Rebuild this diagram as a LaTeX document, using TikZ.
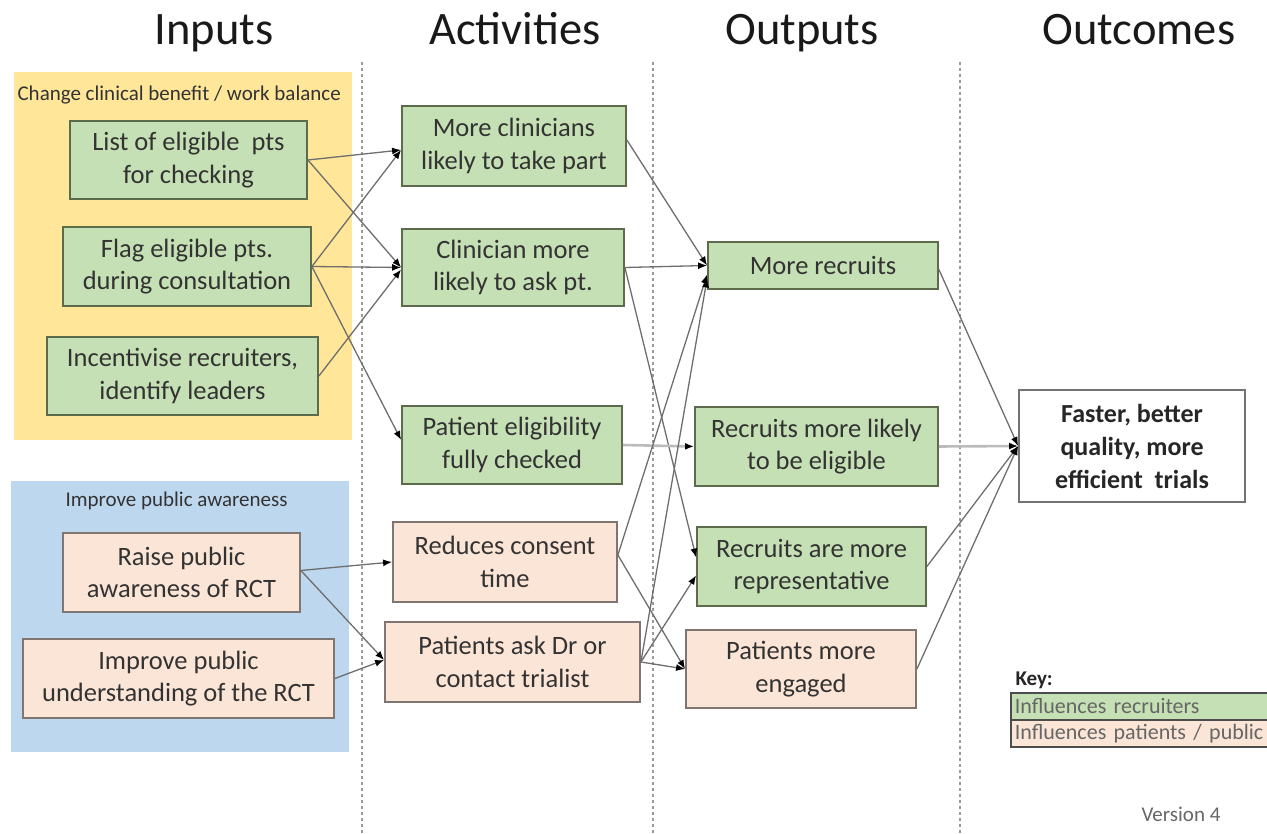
\documentclass[tikz,border=0pt]{standalone}
\usepackage{fontspec}
\setmainfont{Carlito}
\usetikzlibrary{arrows.meta}
\definecolor{gfill}{HTML}{C5E0B4}
\definecolor{gborder}{HTML}{5B6B4C}
\definecolor{pfill}{HTML}{FBE5D6}
\definecolor{pborder}{HTML}{7F7672}
\definecolor{yellowbg}{HTML}{FFE699}
\definecolor{bluebg}{HTML}{BDD7EE}
\definecolor{txt}{HTML}{333333}
\definecolor{linegrey}{HTML}{6E6E6E}
\definecolor{lightline}{HTML}{BBBBBB}
\definecolor{dashgrey}{HTML}{9A9A9A}
\begin{document}
\begin{tikzpicture}[x=1pt,y=-1pt,
  box/.style={draw, line width=1.8pt, align=center, inner sep=0pt, text=txt,
    font=\fontsize{26.5}{32.5}\selectfont},
  gbox/.style={box, fill=gfill, draw=gborder},
  pbox/.style={box, fill=pfill, draw=pborder},
  header/.style={font=\fontsize{46.5}{52}\selectfont, text=black!90, anchor=base},
  conn/.style={draw=linegrey, line width=1.3pt, -{Latex[length=9pt,width=7pt,color=black]}},
  lconn/.style={draw=lightline, line width=2.6pt, -{Latex[length=9pt,width=7pt,color=black]}},
  sep/.style={draw=dashgrey, line width=1.5pt, dash pattern=on 3pt off 3pt},
  grouplabel/.style={anchor=west, font=\fontsize{21}{24}\selectfont, text=txt},
  keyrow/.style={draw=black!70, line width=1.6pt, anchor=north west, text width=300pt,
    align=left, inner xsep=4pt, inner ysep=0pt, minimum height=27pt,
    font=\fontsize{22}{24}\selectfont, text=black!60}
]
\useasboundingbox (0,0) rectangle (1267,834);

% backgrounds
\fill[yellowbg] (14,72) rectangle (352,440);
\fill[bluebg] (11,481) rectangle (349,752);

% separators
\draw[sep] (362,62) -- (362,834);
\draw[sep] (653,62) -- (653,834);
\draw[sep] (960,62) -- (960,834);

% headers
\node[header] (hin) at (214,45) {Inputs};
\node[header] (hact) at (515,45) {Activities};
\node[header] (hout) at (802,45) {Outputs};
\node[header] (hoc) at (1139,45) {Outcomes};

% group labels
\node[grouplabel] (g1) at (14,95) {Change clinical benefit / work balance};
\node[grouplabel] (g2) at (62,501) {Improve public awareness};

% inputs
\node[gbox, minimum width=237pt, minimum height=78pt] (L1) at (188.5,160) {List of eligible\ \ pts\\for checking};
\node[gbox, minimum width=248pt, minimum height=79pt] (L2) at (187,266.5) {Flag eligible pts.\\during consultation};
\node[gbox, minimum width=271pt, minimum height=78pt] (L3) at (182.5,376) {Incentivise recruiters,\\identify leaders};
\node[pbox, minimum width=237pt, minimum height=79pt] (P1) at (181.5,572.5) {Raise public\\awareness of RCT};
\node[pbox, minimum width=311pt, minimum height=79pt] (P2) at (178.5,678.5) {Improve public\\understanding of the RCT};

% activities
\node[gbox, minimum width=224pt, minimum height=80pt] (A1) at (514,146) {More clinicians\\likely to take part};
\node[gbox, minimum width=222pt, minimum height=77pt] (A2) at (513,267.5) {Clinician more\\likely to ask pt.};
\node[gbox, minimum width=220pt, minimum height=78pt] (A3) at (512,445) {Patient eligibility\\fully checked};
\node[pbox, minimum width=224pt, minimum height=80pt] (A4) at (505,562) {Reduces consent\\time};
\node[pbox, minimum width=255pt, minimum height=80pt] (A5) at (512.5,662) {Patients ask Dr or\\contact trialist};

% outputs
\node[gbox, minimum width=230pt, minimum height=47pt] (O1) at (823,265.5) {More recruits};
\node[gbox, minimum width=243pt, minimum height=79pt] (O2) at (816.5,446.5) {Recruits more likely\\to be eligible};
\node[gbox, minimum width=229pt, minimum height=79pt] (O3) at (811.5,566.5) {Recruits are more\\representative};
\node[pbox, minimum width=230pt, minimum height=78pt] (O4) at (801,669) {Patients more\\engaged};

% outcome
\node[box, draw=black!55, fill=white, minimum width=226pt, minimum height=112pt,
  font=\bfseries\fontsize{26}{33}\selectfont, text=black!85] (OC) at (1132,446)
  {Faster, better\\quality, more\\efficient\ \ trials};

% connectors: inputs -> activities
\draw[conn] (L1.east) -- ([yshift=-4pt]A1.west);
\draw[conn] (L1.east) -- (A2.west);
\draw[conn] (L2.east) -- ([yshift=-4pt]A1.west);
\draw[conn] (L2.east) -- (A2.west);
\draw[conn] (L2.east) -- ([yshift=5pt]A3.west);
\draw[conn] (L3.east) -- ([yshift=-2pt]A2.west);
\draw[conn] ([yshift=2pt]P1.east) -- (A4.west);
\draw[conn] ([yshift=2pt]P1.east) -- ([yshift=2pt]A5.west);
\draw[conn] (P2.east) -- ([yshift=2pt]A5.west);

% activities -> outputs
\draw[conn] ([yshift=6pt]A1.east) -- (O1.west);
\draw[conn] (A2.east) -- (O1.west);
\draw[conn] (A2.east) -- ([yshift=9pt]O3.west);
\draw[lconn] (A3.east) -- (O2.west);
\draw[conn] ([yshift=7pt]A4.east) -- ([yshift=-9pt]O1.west);
\draw[conn] ([yshift=7pt]A4.east) -- (O4.west);
\draw[conn] (A5.east) -- ([yshift=-13pt]O1.west);
\draw[conn] (A5.east) -- ([yshift=-9pt]O3.west);
\draw[conn] (A5.east) -- (O4.west);

% outputs -> outcome
\draw[conn] ([yshift=-4pt]O1.east) -- (OC.west);
\draw[lconn] (O2.east) -- (OC.west);
\draw[conn] (O3.east) -- (OC.west);
\draw[conn] (O4.east) -- (OC.west);

% key
\node[anchor=west, font=\bfseries\fontsize{21}{24}\selectfont, text=black!85] (key) at (1012,680) {Key:};
\node[keyrow, fill=gfill] (k1) at (1010,692) {Influences recruiters};
\node[keyrow, fill=pfill] (k2) at (1010,719) {Influences patients / public};

% version
\node[font=\fontsize{21}{24}\selectfont, text=black!60] (ver) at (1181,814) {Version 4};
\end{tikzpicture}
\end{document}
